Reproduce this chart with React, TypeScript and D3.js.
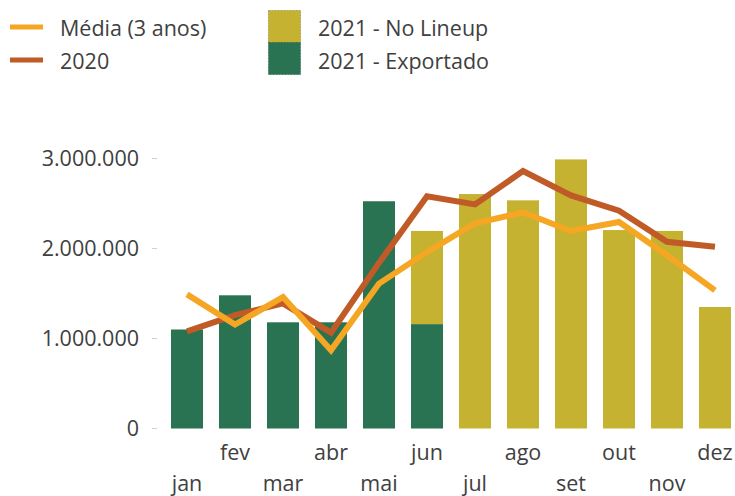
import React from "react";
import * as d3 from "d3";

const months = ["jan", "fev", "mar", "abr", "mai", "jun", "jul", "ago", "set", "out", "nov", "dez"];
const exportado = [1100000, 1480000, 1180000, 1180000, 2525000, 1160000, 0, 0, 0, 0, 0, 0];
const noLineup = [0, 0, 0, 0, 0, 1035000, 2605000, 2535000, 2990000, 2205000, 2195000, 1350000];
const media3 = [1490000, 1155000, 1460000, 870000, 1610000, 1960000, 2280000, 2400000, 2195000, 2295000, 1925000, 1535000];
const y2020 = [1080000, 1260000, 1390000, 1065000, 1840000, 2580000, 2490000, 2860000, 2590000, 2420000, 2075000, 2020000];
const yTicks = [0, 1000000, 2000000, 3000000];

const W = 735;
const H = 496;
const FONT = "'Open Sans', 'Noto Sans', sans-serif";
const FS = 21.5;
const GREEN = "#2A7352";
const OLIVE = "#C5B230";
const ORANGE = "#F5A623";
const RUST = "#C05A27";
const TEXT = "#404040";

const fmt = (v: number) => d3.format(",.0f")(v).replace(/,/g, ".");

export default function App() {
  const x = d3.scaleBand<string>().domain(months).range([163, 739]).paddingInner(1 / 3).paddingOuter(1 / 6);
  const y = d3.scaleLinear().domain([0, 3000000]).range([428.5, 158.5]);
  const cx = (m: string) => (x(m) ?? 0) + x.bandwidth() / 2;

  const line = d3
    .line<number>()
    .x((_, i) => cx(months[i]))
    .y((d) => y(d));

  return (
    <svg width={W} height={H} style={{ position: "absolute", left: 0, top: 0, fontFamily: FONT }}>
      <rect width={W} height={H} fill="#fff" />

      {/* legend */}
      <g fontSize={FS} fill={TEXT}>
        <line x1={10} x2={43} y1={27} y2={27} stroke={ORANGE} strokeWidth={5} />
        <text x={60} y={36}>Média (3 anos)</text>
        <line x1={10} x2={43} y1={60} y2={60} stroke={RUST} strokeWidth={5} />
        <text x={60} y={69}>2020</text>
        <rect x={268.5} y={10.5} width={32} height={32} fill={OLIVE} stroke="#8a7d20" strokeWidth={0.6} strokeDasharray="2,1" />
        <text x={318} y={36}>2021 - No Lineup</text>
        <rect x={268.5} y={42.5} width={32} height={32} fill={GREEN} stroke="#1d5039" strokeWidth={0.6} strokeDasharray="2,1" />
        <text x={318} y={69}>2021 - Exportado</text>
      </g>

      {/* y axis */}
      <g fontSize={FS} fill={TEXT}>
        {yTicks.map((t) => (
          <g key={t}>
            <line x1={152} x2={157} y1={y(t)} y2={y(t)} stroke="#d0d0d0" strokeWidth={1} />
            <text x={139} y={y(t)} dy="0.35em" textAnchor="end">
              {fmt(t)}
            </text>
          </g>
        ))}
      </g>

      {/* bars */}
      {months.map((m, i) => (
        <g key={m}>
          {exportado[i] > 0 && (
            <rect x={x(m)} y={y(exportado[i])} width={x.bandwidth()} height={y(0) - y(exportado[i])} fill={GREEN} />
          )}
          {noLineup[i] > 0 && (
            <rect
              x={x(m)}
              y={y(exportado[i] + noLineup[i])}
              width={x.bandwidth()}
              height={y(exportado[i]) - y(exportado[i] + noLineup[i])}
              fill={OLIVE}
            />
          )}
        </g>
      ))}

      {/* lines */}
      <path d={line(y2020) ?? ""} fill="none" stroke={RUST} strokeWidth={6} strokeLinejoin="miter" />
      <path d={line(media3) ?? ""} fill="none" stroke={ORANGE} strokeWidth={6} strokeLinejoin="miter" />

      {/* x labels */}
      <g fontSize={FS} fill={TEXT} textAnchor="middle">
        {months.map((m, i) => (
          <text key={m} x={cx(m)} y={i % 2 === 0 ? 491 : 460}>
            {m}
          </text>
        ))}
      </g>
    </svg>
  );
}
